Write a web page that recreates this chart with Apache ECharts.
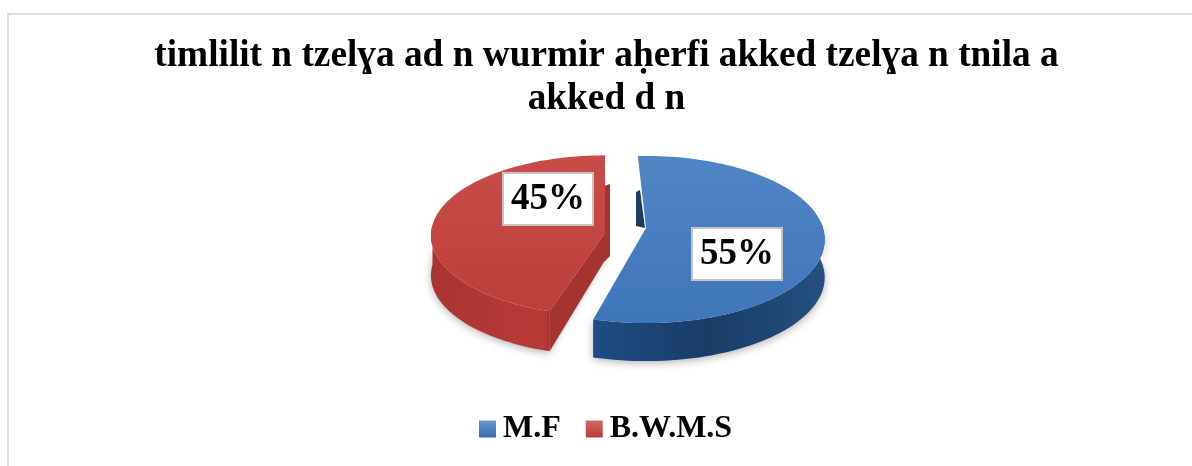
<!DOCTYPE html>
<html><head><meta charset="utf-8">
<style>html,body{margin:0;padding:0;background:#fff}#c{width:1192px;height:466px}</style>
<script src="https://cdn.jsdelivr.net/npm/echarts@6/dist/echarts.min.js"></script>
</head><body><div id="c"></div>
<script>
var titleLines = ['timlilit n tzelɣa ad n wurmir aḥerfi akked tzelɣa n tnila a', 'akked d n'];
var categories = ['M.F', 'B.W.M.S'];
var values = [55, 45];
var labels = ['55%', '45%'];

var total = values.reduce(function (a, b) { return a + b; }, 0);
var START = -3;
var looks = [
  {cx: 646, cy: 228, R: 177, ry: 82, k: 0.138, rot: 0, depth: 38, apexDepth: 38, labelX: 737, labelY: 254,
   top: ['#5085c6', '#3f76ba'], wall: ['#1f4c85', '#1a3c67', '#24507f'], inner: '#1f3c60',
   sliver: [[645, 228], [640, 190], [636, 192], [636, 226]], legend: ['#6a95cc', '#356cb0']},
  {cx: 605, cy: 233, R: 174, ry: 80, k: 0.03, rot: 3, depth: 40, apexDepth: 27, labelX: 548, labelY: 199,
   top: ['#c94c48', '#bd3f3b'], wall: ['#a83431', '#b33835', '#b83a36'], inner: '#a53330',
   sliver: [[604, 186], [610, 184], [610, 256], [604, 262]], legend: ['#cf6a66', '#b93a37']}
];

function project(l, deg, frac) {
  var a = deg * Math.PI / 180, u = Math.sin(a) * frac, v = -Math.cos(a) * frac;
  var s = 1 / (1 - l.k * v);
  return [l.cx + l.R * u * s, l.cy + l.ry * v * s];
}
function vgrad(c) { return new echarts.graphic.LinearGradient(0, 0, 0, 1, [{offset: 0, color: c[0]}, {offset: 1, color: c[1]}]); }
function hgrad(c) { return new echarts.graphic.LinearGradient(0, 0, 1, 0, [{offset: 0, color: c[0]}, {offset: 0.5, color: c[1]}, {offset: 1, color: c[2]}]); }

function makeSeries(idx) {
  var before = 0;
  for (var i = 0; i < idx; i++) before += values[i];
  var l = looks[idx];
  var from = START + l.rot + before / total * 360;
  var to = from + values[idx] / total * 360;
  return {
    type: 'custom', name: categories[idx], coordinateSystem: 'none',
    data: [[values[idx]]], silent: true, z: 3,
    itemStyle: {color: vgrad(l.legend)},
    renderItem: function () {
      var arc = [], deg;
      for (deg = from; deg <= to + 0.01; deg += 2) arc.push(project(l, deg, 1));
      var apex = project(l, 0, 0);
      var children = [];
      var rim = arc.filter(function (p, n) { var d = from + n * 2; return Math.cos(d * Math.PI / 180) < 0.12; });
      var lower = rim.map(function (p) { return [p[0], p[1] + l.depth]; }).reverse();
      children.push({type: 'polygon', shape: {points: rim.concat(lower)},
        style: {fill: hgrad(l.wall), shadowBlur: 8, shadowColor: 'rgba(0,0,0,0.3)', shadowOffsetY: 2}});
      var edge = arc[idx === 0 ? arc.length - 1 : 0];
      if (idx === 1) {
        children.push({type: 'polygon', shape: {points: [apex, edge, [edge[0], edge[1] + l.depth], [apex[0], apex[1] + l.apexDepth]]},
          style: {fill: l.inner, shadowBlur: 5, shadowColor: 'rgba(0,0,0,0.3)'}});
      }
      children.push({type: 'polygon', shape: {points: l.sliver}, style: {fill: l.inner}});
      children.push({type: 'polygon', shape: {points: [apex].concat(arc)}, style: {fill: vgrad(l.top)}});
      children.push({type: 'rect', shape: {x: l.labelX - 45, y: l.labelY - 26, width: 90, height: 52},
        style: {fill: '#fff', stroke: '#c4c4c4', lineWidth: 2}});
      children.push({type: 'text', x: l.labelX, y: l.labelY,
        style: {text: labels[idx], fill: '#000', font: 'bold 37px "Liberation Serif"', align: 'center', verticalAlign: 'middle'}});
      return {type: 'group', children: children};
    }
  };
}

var chart = echarts.init(document.getElementById('c'), null, {renderer: 'canvas'});
chart.setOption({
  animation: false,
  backgroundColor: '#fff',
  graphic: [
    {type: 'polyline', silent: true, z: 0, shape: {points: [[8, 466], [8, 14], [1192, 14]]},
     style: {stroke: '#dcdcdc', lineWidth: 2, fill: null}},
    {type: 'text', z: 5, x: 606.5, y: 56, style: {text: titleLines[0], font: 'bold 37.3px "Liberation Serif"', fill: '#000', align: 'center', verticalAlign: 'middle'}},
    {type: 'text', z: 5, x: 606.5, y: 99, style: {text: titleLines[1], font: 'bold 37.3px "Liberation Serif"', fill: '#000', align: 'center', verticalAlign: 'middle'}}
  ],
  legend: {
    left: 479, top: 413, icon: 'rect', itemWidth: 17, itemHeight: 17, itemGap: 25, padding: 0,
    data: categories,
    textStyle: {fontFamily: 'Liberation Serif', fontWeight: 'bold', fontSize: 32, color: '#000', padding: [0, 0, 0, 2]}
  },
  series: [makeSeries(0), makeSeries(1)]
});
</script></body></html>
